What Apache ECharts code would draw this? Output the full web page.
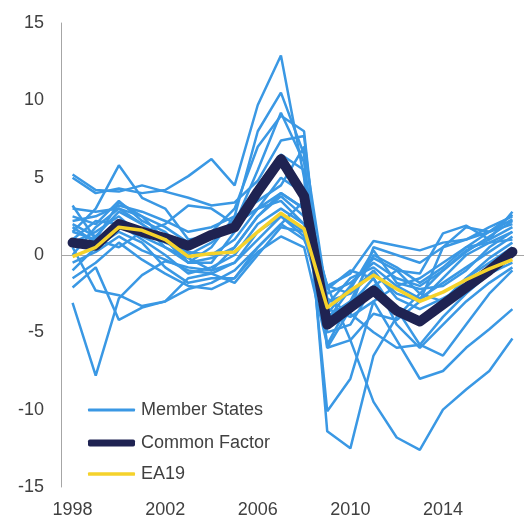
<!DOCTYPE html>
<html>
<head>
<meta charset="utf-8">
<title>Output gaps</title>
<script src="https://cdn.jsdelivr.net/npm/echarts@6/dist/echarts.min.js"></script>
<style>
    html, body { margin: 0; padding: 0; background: #fff; }
    #chart { width: 524px; height: 519px; }
</style>
</head>
<body>
<div id="chart"></div>
<script>
"use strict";

// x axis
var years = ["1998", "1999", "2000", "2001", "2002", "2003", "2004", "2005", "2006", "2007",
             "2008", "2009", "2010", "2011", "2012", "2013", "2014", "2015", "2016", "2017"];

// y axis ticks
var yTicks = [-15, -10, -5, 0, 5, 10, 15];

// common factor and euro area aggregate
var commonFactor = [0.8, 0.6, 2.0, 1.5, 1.1, 0.6, 1.3, 1.8, 4.1, 6.2, 3.8, -4.5, -3.4, -2.3, -3.6, -4.3, -3.2, -2.1, -1.0, 0.2];
var ea19 = [-0.1, 0.5, 1.8, 1.6, 1.0, -0.1, 0.1, 0.2, 1.5, 2.7, 1.7, -3.4, -2.3, -1.3, -2.2, -3.0, -2.4, -1.6, -0.9, -0.3];

// member states (one array per country)
var m1  = [5.2, 4.2, 4.1, 4.5, 4.1, 3.7, 3.2, 3.4, 4.8, 7.4, 7.7, -6.0, -5.5, -3.8, -4.2, -3.0, 0.5, 1.8, 1.5, 2.3];
var m2  = [1.5, 3.0, 5.8, 3.7, 3.0, 1.0, 1.2, 2.0, 3.0, 4.0, 3.0, -2.0, -1.2, 0.9, 0.6, 0.3, 0.8, 1.0, 1.5, 2.0];
var m3  = [5.0, 4.0, 4.3, 4.0, 4.2, 5.1, 6.2, 4.5, 9.7, 12.9, 5.0, -10.1, -8.0, -3.0, -2.0, -1.5, -0.5, 0.5, 1.5, 2.6];
var m4  = [3.2, 1.0, 3.4, 2.5, 1.0, -0.5, 0.5, 2.5, 8.0, 10.5, 6.5, -11.4, -12.5, -6.5, -4.0, -2.5, -1.0, 0.2, 1.2, 2.2];
var m5  = [-3.1, -7.8, -2.8, -1.3, -0.4, -0.8, -1.0, 0.5, 2.5, 4.0, 3.0, -4.0, -3.0, -2.0, -3.5, -5.8, -6.5, -4.5, -2.5, -1.0];
var m6  = [-2.1, -0.8, -4.2, -3.4, -3.0, -1.5, -1.2, -0.5, 1.0, 2.5, 1.5, -3.0, -2.5, -1.2, -2.5, -3.0, -1.5, 0.0, 0.8, 1.5];
var m7  = [0.5, -2.3, -2.6, -3.3, -3.0, -2.2, -1.8, -1.0, 0.5, 2.0, 1.0, -2.5, -1.8, -0.5, -1.5, -2.0, -1.0, 0.3, 1.0, 1.8];
var m8  = [1.5, 1.0, 0.5, 1.5, 2.0, 3.2, 3.0, 2.0, 3.0, 3.5, 2.0, -2.0, -5.5, -9.5, -11.8, -12.6, -10.0, -8.7, -7.5, -5.4];
var m9  = [2.5, 2.0, 3.5, 2.2, 1.5, 0.0, 0.8, 2.0, 5.5, 9.2, 6.0, -5.0, -4.5, -2.0, -1.0, -2.5, -3.0, -1.5, -0.5, 0.5];
var m10 = [0.8, 1.5, 2.5, 1.2, 0.5, -0.5, -0.2, 0.5, 2.5, 3.8, 2.5, -4.5, -3.2, -1.5, -3.8, -4.5, -3.0, -1.5, -0.2, 0.8];
var m11 = [-1.0, 0.5, 1.5, 0.8, -0.8, -1.8, -1.5, -1.5, 0.5, 2.0, 3.5, -2.0, -2.5, -1.0, -2.8, -3.5, -2.8, -2.0, -1.2, -0.5];
var m12 = [2.0, 1.2, 2.8, 2.0, 1.0, -0.5, -0.5, 1.5, 4.5, 6.5, 5.5, -3.5, -4.0, -3.0, -5.5, -8.0, -7.5, -6.0, -4.8, -3.5];
var m13 = [0.0, 1.8, 3.0, 2.5, 1.8, 0.8, 1.5, 3.0, 7.0, 9.0, 8.0, -6.0, -3.5, 0.5, 0.0, -0.5, 0.5, 1.0, 1.8, 2.5];
var m14 = [-0.5, 0.2, 1.2, 0.3, -0.3, -1.0, -1.2, -1.8, 0.0, 1.8, 1.5, -3.8, -2.0, -0.2, -1.0, -1.2, 1.4, 1.9, 1.0, 2.8];
var m15 = [1.0, 2.2, 2.0, 1.0, 0.0, -1.2, -0.8, 0.0, 2.0, 3.0, 2.0, -3.2, -1.5, -0.8, -2.0, -2.8, -1.8, -0.8, 0.2, 1.2];
var m16 = [2.2, 2.5, 3.2, 2.8, 2.2, 1.5, 1.8, 2.5, 3.5, 4.5, 7.0, -2.8, -3.8, -5.0, -6.0, -5.8, -4.0, -2.5, -1.2, 0.0];
var m17 = [-1.5, -0.5, 0.8, -0.3, -1.2, -2.0, -2.2, -1.5, 0.2, 1.2, 0.5, -5.8, -3.0, 0.0, -0.8, -1.8, -0.8, 0.5, 0.8, 1.0];
var m18 = [1.8, 0.8, 1.8, 1.5, 0.8, 0.2, 0.0, 1.0, 3.0, 5.0, 4.0, -2.2, -1.0, -1.5, -4.5, -6.0, -4.5, -3.0, -1.8, -0.8];
var m19 = [3.0, 2.8, 3.0, 2.0, 0.5, -0.2, -1.0, -0.5, 1.5, 2.5, 1.2, -4.2, -2.2, 0.3, -1.8, -2.2, -2.0, -1.0, 0.5, 1.5];

var memberStates = [m1, m2, m3, m4, m5, m6, m7, m8, m9, m10, m11, m12, m13, m14, m15, m16, m17, m18, m19];

var MEMBER_COLOR = "#3a98e4";
var FACTOR_COLOR = "#1f2352";
var EA_COLOR = "#f5d22b";
var TEXT_COLOR = "#404040";
var FONT = "Liberation Sans, Arial, sans-serif";

function $each(arr, fn) {
    for (var i = 0; i < arr.length; i++) {
        fn(i, arr[i]);
    }
}

var series = [];
$each(memberStates, function (i, data) {
    var s = {
        name: "Member States",
        type: "line",
        data: data,
        symbol: "none",
        silent: true,
        lineStyle: { color: MEMBER_COLOR, width: 2.5 },
        itemStyle: { color: MEMBER_COLOR },
        z: 2
    };
    // zero line drawn once, under the lines
    if (i === 0) {
        s.markLine = {
            silent: true,
            symbol: "none",
            label: { show: false },
            lineStyle: { color: "#a6a6a6", width: 1, type: "solid" },
            data: [{ yAxis: 0 }],
            z: 1
        };
    }
    series.push(s);
});

series.push({
    name: "Common Factor",
    type: "line",
    data: commonFactor,
    symbol: "none",
    silent: true,
    lineStyle: { color: FACTOR_COLOR, width: 10, cap: "round", join: "round" },
    itemStyle: { color: FACTOR_COLOR },
    z: 3
});

series.push({
    name: "EA19",
    type: "line",
    data: ea19,
    symbol: "none",
    silent: true,
    lineStyle: { color: EA_COLOR, width: 3.5, join: "round" },
    itemStyle: { color: EA_COLOR },
    z: 4
});

// one legend per entry so each icon gets its own thickness
function legendItem(name, top, thickness) {
    return {
        data: [name],
        left: 83,
        top: top,
        itemWidth: 47,
        itemHeight: thickness,
        icon: "roundRect",
        selectedMode: false,
        textStyle: { color: TEXT_COLOR, fontSize: 18, fontFamily: FONT, padding: [0, 0, 0, 1] }
    };
}

var option = {
    animation: false,
    backgroundColor: "#fff",
    textStyle: { fontFamily: FONT },
    grid: { left: 61, right: -11, top: 23, bottom: 28, containLabel: false },
    legend: [
        legendItem("Member States", 396, 3),
        legendItem("Common Factor", 429, 7),
        legendItem("EA19", 460, 3.5)
    ],
    xAxis: {
        type: "category",
        data: years,
        boundaryGap: true,
        axisLine: { show: false, onZero: false },
        axisTick: { show: false },
        axisLabel: {
            interval: 3,
            color: TEXT_COLOR,
            fontSize: 18,
            fontFamily: FONT,
            margin: 14
        },
        splitLine: { show: false }
    },
    yAxis: {
        type: "value",
        min: yTicks[0],
        max: yTicks[yTicks.length - 1],
        interval: 5,
        axisLine: { show: true, lineStyle: { color: "#a6a6a6", width: 1 } },
        axisTick: { show: false },
        splitLine: { show: false },
        axisLabel: {
            color: TEXT_COLOR,
            fontSize: 18,
            fontFamily: FONT,
            margin: 17
        }
    },
    series: series
};

var chart = echarts.init(document.getElementById("chart"), null, { renderer: "canvas" });
chart.setOption(option);
</script>
</body>
</html>
